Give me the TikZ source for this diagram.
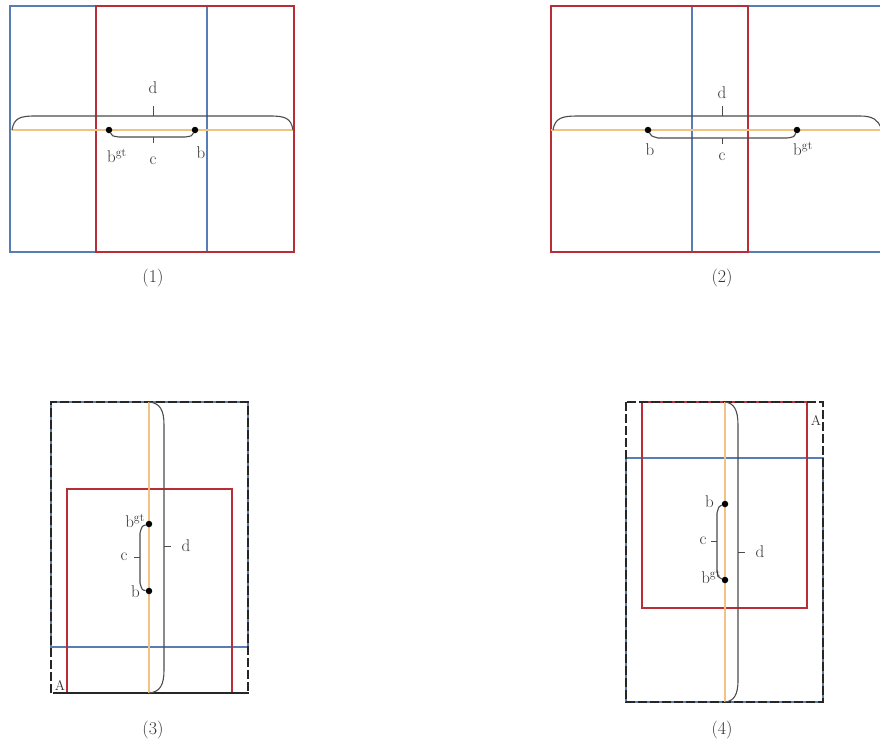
\documentclass[tikz,border=0pt]{standalone}
\begin{document}
\begin{tikzpicture}[x=1pt,y=-1pt,
  bluebox/.style={draw=bxblue,line width=1.6pt},
  redbox/.style={draw=bxred,line width=2pt},
  dashbox/.style={draw=black!85,line width=1.6pt,dash pattern=on 9pt off 3pt},
  axisline/.style={draw=bxorange,line width=1.1pt},
  bracel/.style={draw=black!70,line width=1.1pt},
  tickl/.style={draw=black!70,line width=1pt},
  dotn/.style={circle,fill=black,inner sep=0pt,minimum size=6.5pt},
  lbl/.style={inner sep=1pt,font=\fontsize{17}{19}\selectfont,text=black!80},
  captxt/.style={inner sep=1pt,font=\fontsize{18}{20}\selectfont,text=black!80}]
\definecolor{bxblue}{RGB}{88,125,180}
\definecolor{bxred}{RGB}{185,45,55}
\definecolor{bxorange}{RGB}{240,195,130}
\useasboundingbox[fill=white] (0,0) rectangle (880,742);

% ---------- Panel 1 ----------
\draw[bluebox] (10,6) rectangle (207,252);
\draw[redbox] (96,6) rectangle (294,252);
\draw[axisline] (12,130) -- (293,130);
\draw[bracel] (12,130) .. controls (14,118) and (20,116) .. (35,116) -- (270,116) .. controls (285,116) and (291,118) .. (293,130);
\coordinate (d1t) at (153,116);
\draw[tickl] (d1t) -- ++(0,-10);
\node[lbl] (d1) at (153,88) {d};
\node[dotn] (g1) at (109,130) {};
\node[dotn] (b1) at (195,130) {};
\draw[bracel] (g1) .. controls (112,136) .. (119,137) -- (185,137) .. controls (192,136) .. (b1);
\coordinate (c1t) at (153,137);
\draw[tickl] (c1t) -- ++(0,6);
\node[lbl] (c1) at (153,161) {c};
\node[lbl] (gl1) at (117,156) {b\textsuperscript{gt}};
\node[lbl] (bl1) at (201,153) {b};
\node[captxt] (k1) at (153,278) {(1)};

% ---------- Panel 2 ----------
\draw[bluebox] (882,6) -- (692,6) -- (692,252) -- (882,252);
\draw[redbox] (551,6) rectangle (748,252);
\draw[axisline] (551,130) -- (880,130);
\draw[bracel] (553,130) .. controls (555,118) and (562,116) .. (577,116) -- (860,116) .. controls (873,116) and (878,120) .. (881,128);
\coordinate (d2t) at (722,116);
\draw[tickl] (d2t) -- ++(0,-10);
\node[lbl] (d2) at (722,93) {d};
\node[dotn] (b2) at (648,130) {};
\node[dotn] (g2) at (797,130) {};
\draw[bracel] (b2) .. controls (651,136) .. (658,138) -- (787,138) .. controls (794,137) .. (g2);
\coordinate (c2t) at (722,138);
\draw[tickl] (c2t) -- ++(0,6);
\node[lbl] (c2) at (722,157) {c};
\node[lbl] (bl2) at (650,150) {b};
\node[lbl] (gl2) at (803,149) {b\textsuperscript{gt}};
\node[captxt] (k2) at (722,278) {(2)};

% ---------- Panel 3 ----------
\draw[bluebox] (51,402) rectangle (248,647);
\draw[redbox] (67,489) rectangle (232,693);
\draw[dashbox] (51,693) -- (51,402) -- (248,402) -- (248,693);
\draw[draw=black!85,line width=1.4pt] (53,693) -- (249,693);
\draw[axisline] (149,402) -- (149,693);
\draw[bracel] (149,402) .. controls (160,403) and (164,410) .. (164,425) -- (164,670) .. controls (164,685) and (160,692) .. (149,693);
\coordinate (d3t) at (164,546);
\draw[tickl] (d3t) -- ++(7,0);
\node[lbl] (d3) at (186,546) {d};
\node[dotn] (g3) at (149,524) {};
\node[dotn] (b3) at (149,591) {};
\draw[bracel] (g3) .. controls (142,526) .. (140,533) -- (140,583) .. controls (142,590) .. (b3);
\coordinate (c3t) at (140,557);
\draw[tickl] (c3t) -- ++(-6,0);
\node[lbl] (c3) at (124,557) {c};
\node[lbl,anchor=east] (gl3) at (146,521) {b\textsuperscript{gt}};
\node[lbl,anchor=east] (bl3) at (141,592) {b};
\node[lbl,font=\fontsize{14}{16}\selectfont] (a3) at (60,685) {A};
\node[captxt] (k3) at (153,730) {(3)};

% ---------- Panel 4 ----------
\draw[bluebox] (626,458) rectangle (823,702);
\draw[redbox] (642,402) rectangle (807,608);
\draw[dashbox] (626,402) rectangle (823,702);
\draw[axisline] (725,402) -- (725,702);
\draw[bracel] (725,402) .. controls (734,403) and (738,410) .. (738,425) -- (738,680) .. controls (738,695) and (734,701) .. (725,702);
\coordinate (d4t) at (738,552);
\draw[tickl] (d4t) -- ++(7,0);
\node[lbl] (d4) at (760,552) {d};
\node[dotn] (b4) at (725,504) {};
\node[dotn] (g4) at (725,580) {};
\draw[bracel] (b4) .. controls (719,506) .. (717,513) -- (717,572) .. controls (719,578) .. (g4);
\coordinate (c4t) at (717,541);
\draw[tickl] (c4t) -- ++(-6,0);
\node[lbl] (c4) at (703,541) {c};
\node[lbl,anchor=east] (bl4) at (715,502) {b};
\node[lbl,anchor=east] (gl4) at (722,577) {b\textsuperscript{gt}};
\node[lbl,font=\fontsize{14}{16}\selectfont] (a4) at (816,420) {A};
\node[captxt] (k4) at (722,730) {(4)};
\end{tikzpicture}
\end{document}
